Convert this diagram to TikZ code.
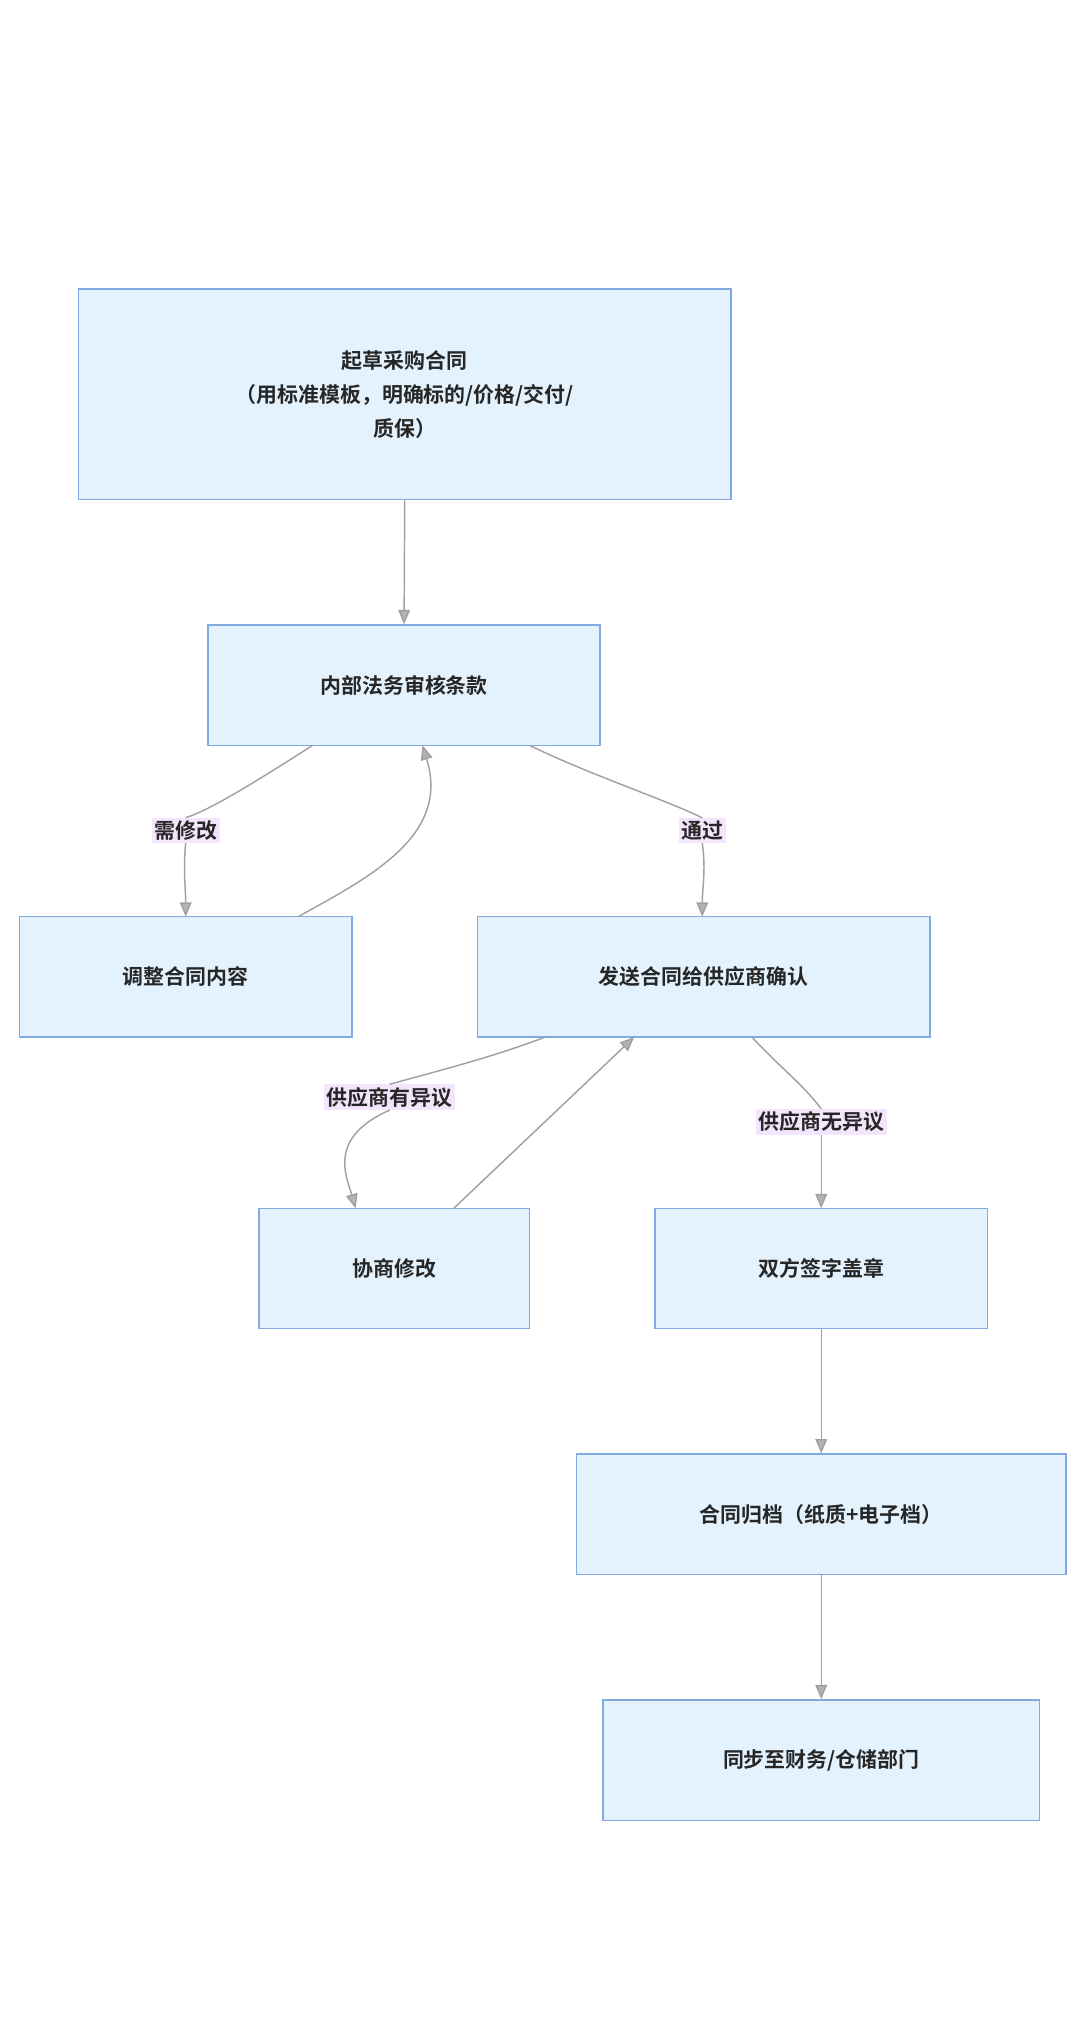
\documentclass[tikz,border=0pt]{standalone}
\usepackage{fontspec}
\setmainfont{Noto Sans CJK SC}[BoldFont={* Bold}]
\usetikzlibrary{arrows.meta}
\definecolor{bfill}{HTML}{E3F2FD}
\definecolor{bline}{HTML}{82A9E0}
\definecolor{lfill}{HTML}{F3E5FB}
\definecolor{edge}{HTML}{A0A0A0}
\begin{document}
\begin{tikzpicture}[x=1pt,y=-1pt,
 box/.style={draw=bline,line width=1.2pt,fill=bfill,font=\fontsize{16}{26}\selectfont\bfseries,text=black!85,align=center},
 lab/.style={fill=lfill,font=\fontsize{16}{20}\selectfont\bfseries,text=black!85,inner sep=2pt},
 arr/.style={draw=edge,line width=1.1pt,-{Triangle[length=11pt,width=9pt,fill=edge!80]}}]
\useasboundingbox (0,0) rectangle (826,1560);
\newcommand\bx[6]{\node[box,minimum width=#4-#2,minimum height=#5-#3] (#1) at ({(#2+#4)/2},{(#3+#5)/2}) {#6};}
\bx{A}{60}{221}{559}{382}{起草采购合同\\（用标准模板，明确标的/价格/交付/\\质保）}
\bx{B}{159}{478}{459}{570}{内部法务审核条款}
\bx{C}{15}{701}{269}{793}{调整合同内容}
\bx{D}{365}{701}{711}{793}{发送合同给供应商确认}
\bx{E}{198}{924}{405}{1016}{协商修改}
\bx{F}{501}{924}{755}{1016}{双方签字盖章}
\bx{G}{441}{1112}{815}{1204}{合同归档（纸质+电子档）}
\bx{H}{461}{1300}{795}{1392}{同步至财务/仓储部门}
\node[lab] (l1) at (142,635) {需修改};
\node[lab] (l2) at (537,635) {通过};
\node[lab] (l3) at (298,839) {供应商有异议};
\node[lab] (l4) at (628,858) {供应商无异议};
\coordinate (b1) at (239,570); \coordinate (b2) at (323,570); \coordinate (b3) at (405,570);
\coordinate (c1) at (142,701); \coordinate (c2) at (228,701);
\coordinate (d0) at (537,701); \coordinate (d1) at (417,793); \coordinate (d2) at (485,793); \coordinate (d3) at (575,793);
\coordinate (e1) at (272,924); \coordinate (e2) at (347,924);
\coordinate (f0) at (628,924);
\draw[arr] (A.south) -- (B.north);
\draw[draw=edge,line width=1.1pt] (b1) .. controls (200,595) and (160,620) .. (l1.north);
\draw[arr] (l1.south) .. controls (140,665) and (142,680) .. (c1);
\draw[arr] (c2) .. controls (280,672) and (345,640) .. (b2);
\draw[draw=edge,line width=1.1pt] (b3) .. controls (450,592) and (510,612) .. (l2.north);
\draw[arr] (l2.south) .. controls (540,665) and (537,680) .. (d0);
\draw[draw=edge,line width=1.1pt] (d1) .. controls (380,807) and (350,815) .. (l3.north);
\draw[arr] (l3.south) .. controls (250,870) and (265,900) .. (e1);
\draw[arr] (e2) -- (d2);
\draw[draw=edge,line width=1.1pt] (d3) .. controls (595,815) and (615,830) .. (l4.north);
\draw[arr] (l4.south) -- (f0);
\draw[arr] (F.south) -- (G.north);
\draw[arr] (G.south) -- (H.north);
\end{tikzpicture}
\end{document}
